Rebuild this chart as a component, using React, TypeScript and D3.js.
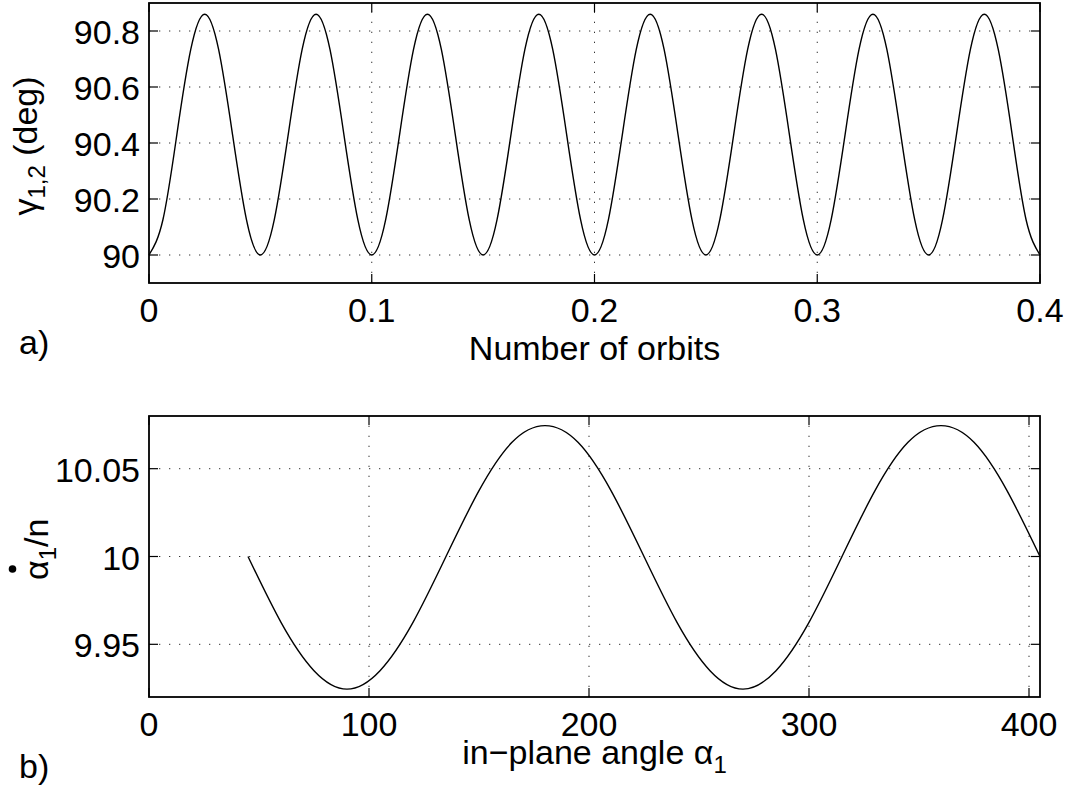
import React, { useEffect, useRef } from 'react';
import * as d3 from 'd3';

// panel a) gamma_1,2 over the number of orbits, one sample every 1/160 orbit
const orbitStep = 0.00625;
const gammaDeg = [
  90, 90.126, 90.43, 90.734, 90.86, 90.734, 90.43, 90.126,
  90, 90.126, 90.43, 90.734, 90.86, 90.734, 90.43, 90.126,
  90, 90.126, 90.43, 90.734, 90.86, 90.734, 90.43, 90.126,
  90, 90.126, 90.43, 90.734, 90.86, 90.734, 90.43, 90.126,
  90, 90.126, 90.43, 90.734, 90.86, 90.734, 90.43, 90.126,
  90, 90.126, 90.43, 90.734, 90.86, 90.734, 90.43, 90.126,
  90, 90.126, 90.43, 90.734, 90.86, 90.734, 90.43, 90.126,
  90, 90.126, 90.43, 90.734, 90.86, 90.734, 90.43, 90.126,
  90
];
const orbitTicks = [0, 0.1, 0.2, 0.3, 0.4];
const gammaTicks = [90, 90.2, 90.4, 90.6, 90.8];

// panel b) alpha_1 rate over in-plane angle
const alphaDeg = [45, 60, 75, 90, 105, 120, 135, 150, 165, 180, 195, 210, 225, 240, 255, 270, 285, 300, 315, 330, 345, 360, 375, 390, 405];
const alphaRate = [
  10, 9.9625, 9.935, 9.9245, 9.935, 9.9625, 10, 10.0375, 10.065, 10.0745, 10.065, 10.0375,
  10, 9.9625, 9.935, 9.9245, 9.935, 9.9625, 10, 10.0375, 10.065, 10.0745, 10.065, 10.0375, 10
];
const alphaTicks = [0, 100, 200, 300, 400];
const rateTicks = [9.95, 10, 10.05];

const W = 1070;
const H = 788;
const FONT = '"Liberation Sans", Arial, Helvetica, sans-serif';
const FS = 34;
const TICK = 9;

function drawPanel(svg, xs, ys, xTicks, yTicks, pts) {
  const [x0, x1] = xs.range();
  const [y0, y1] = ys.range(); // y0 bottom, y1 top
  const g = svg.append('g');

  // dotted grid
  g.selectAll('.vgrid')
    .data(xTicks.filter(d => xs(d) > x0 + 1 && xs(d) < x1 - 1))
    .enter().append('line')
    .attr('x1', d => xs(d)).attr('x2', d => xs(d))
    .attr('y1', y0).attr('y2', y1)
    .attr('stroke', '#333').attr('stroke-width', 1)
    .attr('stroke-dasharray', '1.3 8.7');
  g.selectAll('.hgrid')
    .data(yTicks)
    .enter().append('line')
    .attr('x1', x0).attr('x2', x1)
    .attr('y1', d => ys(d)).attr('y2', d => ys(d))
    .attr('stroke', '#333').attr('stroke-width', 1)
    .attr('stroke-dasharray', '1.3 8.7');

  // curve
  const line = d3.line()
    .x(d => xs(d[0]))
    .y(d => ys(d[1]))
    .curve(d3.curveNatural);
  g.append('path')
    .attr('d', line(pts))
    .attr('fill', 'none')
    .attr('stroke', '#000')
    .attr('stroke-width', 1.4);

  // ticks, inward on all four sides
  xTicks.forEach(t => {
    const x = xs(t);
    g.append('line').attr('x1', x).attr('x2', x).attr('y1', y0).attr('y2', y0 - TICK).attr('stroke', '#000').attr('stroke-width', 1.2);
    g.append('line').attr('x1', x).attr('x2', x).attr('y1', y1).attr('y2', y1 + TICK).attr('stroke', '#000').attr('stroke-width', 1.2);
    g.append('text').attr('x', x).attr('y', y0 + 39)
      .attr('text-anchor', 'middle').attr('font-family', FONT).attr('font-size', FS)
      .text(String(t));
  });
  yTicks.forEach(t => {
    const y = ys(t);
    g.append('line').attr('x1', x0).attr('x2', x0 + TICK).attr('y1', y).attr('y2', y).attr('stroke', '#000').attr('stroke-width', 1.2);
    g.append('line').attr('x1', x1).attr('x2', x1 - TICK).attr('y1', y).attr('y2', y).attr('stroke', '#000').attr('stroke-width', 1.2);
    g.append('text').attr('x', x0 - 9).attr('y', y + 13)
      .attr('text-anchor', 'end').attr('font-family', FONT).attr('font-size', FS)
      .text(String(t));
  });

  // box
  g.append('rect')
    .attr('x', x0).attr('y', y1)
    .attr('width', x1 - x0).attr('height', y0 - y1)
    .attr('fill', 'none').attr('stroke', '#000').attr('stroke-width', 1.8);
  return g;
}

export default function App() {
  const ref = useRef(null);

  useEffect(() => {
    const svg = d3.select(ref.current);
    svg.selectAll('*').remove();

    // a)
    const xa = d3.scaleLinear().domain([0, 0.4]).range([149, 1040]);
    const ya = d3.scaleLinear().domain([89.9, 90.9]).range([283, 3]);
    const ptsA = gammaDeg.map((v, i) => [i * orbitStep, v]);
    drawPanel(svg, xa, ya, orbitTicks, gammaTicks, ptsA);

    svg.append('text').attr('x', 594.5).attr('y', 360)
      .attr('text-anchor', 'middle').attr('font-family', FONT).attr('font-size', FS)
      .text('Number of orbits');
    svg.append('text').attr('x', 19).attr('y', 354)
      .attr('font-family', FONT).attr('font-size', FS)
      .text('a)');

    const yla = svg.append('text')
      .attr('transform', 'translate(37,146) rotate(-90)')
      .attr('text-anchor', 'middle').attr('font-family', FONT).attr('font-size', FS);
    yla.append('tspan').text('γ');
    yla.append('tspan').attr('dy', 8).attr('font-size', 24).text('1,2');
    yla.append('tspan').attr('dy', -8).text(' (deg)');

    // b)
    const xb = d3.scaleLinear().domain([0, 405]).range([149, 1040]);
    const yb = d3.scaleLinear().domain([9.92, 10.08]).range([697, 416]);
    const ptsB = alphaDeg.map((a, i) => [a, alphaRate[i]]);
    drawPanel(svg, xb, yb, alphaTicks, rateTicks, ptsB);

    const xlb = svg.append('text').attr('x', 594.5).attr('y', 764)
      .attr('text-anchor', 'middle').attr('font-family', FONT).attr('font-size', FS);
    xlb.append('tspan').text('in\u2212plane angle α');
    xlb.append('tspan').attr('dy', 9).attr('font-size', 24).text('1');

    svg.append('text').attr('x', 19).attr('y', 778)
      .attr('font-family', FONT).attr('font-size', FS)
      .text('b)');

    const ylb = svg.append('text')
      .attr('transform', 'translate(48,580) rotate(-90)')
      .attr('text-anchor', 'start').attr('font-family', FONT).attr('font-size', FS);
    ylb.append('tspan').text('α');
    ylb.append('tspan').attr('dy', 8).attr('font-size', 24).text('1');
    ylb.append('tspan').attr('dy', -8).text('/n');
    // dot accent over alpha
    svg.append('circle').attr('cx', 12.5).attr('cy', 569).attr('r', 3.8).attr('fill', '#000');
  }, []);

  return (
    <svg ref={ref} width={W} height={H}
      style={{ position: 'absolute', left: 0, top: 0, background: '#fff' }} />
  );
}
